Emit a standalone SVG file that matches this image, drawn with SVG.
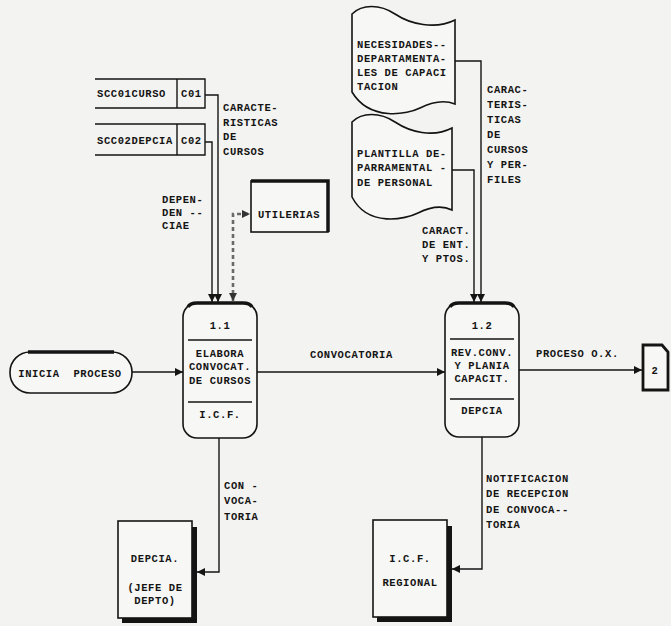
<svg xmlns="http://www.w3.org/2000/svg" width="671" height="626" viewBox="0 0 671 626">
<style>
.t{font-family:"Liberation Mono","DejaVu Sans Mono",monospace;font-weight:bold;font-size:10.5px;letter-spacing:0.6px;fill:#141414}
.c{text-anchor:middle}
.ln{stroke:#141414;stroke-width:1.4;fill:none}
.sh{fill:#f7f7f5;stroke:#141414;stroke-width:1.6}
.thick{stroke:#141414;stroke-width:3.5;fill:none}
.dash{stroke:#6a6a6a;stroke-width:2.6;stroke-dasharray:4 3;fill:none}
</style>
<defs>
<marker id="ah" viewBox="0 0 10 10" refX="10" refY="5" markerWidth="9" markerHeight="8" markerUnits="userSpaceOnUse" orient="auto"><path d="M0,0 L10,5 L0,10 z" fill="#141414"/></marker>
<marker id="ahd" viewBox="0 0 10 10" refX="10" refY="5" markerWidth="9" markerHeight="8" markerUnits="userSpaceOnUse" orient="auto-start-reverse"><path d="M0,0 L10,5 L0,10 z" fill="#333"/></marker>
</defs>
<rect width="671" height="626" fill="#f3f3f1"/>

<g id="connectors">
<path class="ln" d="M205,95 H218 V302" marker-end="url(#ah)"/>
<path class="ln" d="M205,142 H212 V302" marker-end="url(#ah)"/>
<path class="dash" d="M233,301 V214 H250" marker-start="url(#ahd)" marker-end="url(#ahd)"/>
<path class="ln" d="M132,372 H183" marker-end="url(#ah)"/>
<path class="ln" d="M257,372 H445" marker-end="url(#ah)"/>
<path class="ln" d="M519,370 H642" marker-end="url(#ah)"/>
<path class="ln" d="M455,61 H481 V302" marker-end="url(#ah)"/>
<path class="ln" d="M452,170 H474 V302" marker-end="url(#ah)"/>
<path class="ln" d="M219,438 V572 H197" marker-end="url(#ah)"/>
<path class="ln" d="M482,437 V569 H452" marker-end="url(#ah)"/>
<text class="t" x="223" y="111">CARACTE-</text>
<text class="t" x="223" y="126">RISTICAS</text>
<text class="t" x="223" y="140">DE</text>
<text class="t" x="223" y="155">CURSOS</text>
<text class="t" x="162" y="203">DEPEN-</text>
<text class="t" x="162" y="216">DEN --</text>
<text class="t" x="162" y="229">CIAE</text>
<text class="t" x="310" y="358">CONVOCATORIA</text>
<text class="t" x="536" y="357">PROCESO O.X.</text>
<text class="t" x="487" y="93">CARAC-</text>
<text class="t" x="487" y="108">TERIS-</text>
<text class="t" x="487" y="123">TICAS</text>
<text class="t" x="487" y="138">DE</text>
<text class="t" x="487" y="153">CURSOS</text>
<text class="t" x="487" y="168">Y PER-</text>
<text class="t" x="487" y="183">FILES</text>
<text class="t" x="422" y="234">CARACT.</text>
<text class="t" x="422" y="248">DE ENT.</text>
<text class="t" x="422" y="262">Y PTOS.</text>
<text class="t" x="224" y="489">CON -</text>
<text class="t" x="224" y="504">VOCA-</text>
<text class="t" x="224" y="520">TORIA</text>
<text class="t" x="486" y="482">NOTIFICACION</text>
<text class="t" x="486" y="497">DE RECEPCION</text>
<text class="t" x="486" y="513">DE CONVOCA--</text>
<text class="t" x="486" y="528">TORIA</text>
</g>

<g id="store1">
<path class="ln" d="M95,79 H205 V108 H95 M177,79 V108"/>
<text class="t" x="97" y="97">SCC01CURSO</text>
<text class="t" x="181" y="97">C01</text>
</g>
<g id="store2">
<path class="ln" d="M95,124 H205 V155 H95 M177,124 V155"/>
<text class="t" x="97" y="144">SCC02DEPCIA</text>
<text class="t" x="181" y="144">C02</text>
</g>

<g id="utilerias">
<rect class="sh" x="251" y="181" width="77" height="51" stroke-width="2"/>
<path class="thick" d="M251,181 H328 V232"/>
<text class="t c" x="289" y="218">UTILERIAS</text>
</g>

<g id="inicia">
<rect class="sh" x="10" y="352" width="122" height="41" rx="20"/>
<path class="thick" d="M28,352 H114"/>
<text class="t c" x="70" y="377" xml:space="preserve">INICIA  PROCESO</text>
</g>

<g id="p11">
<rect class="sh" x="183" y="303" width="74" height="135" rx="14"/>
<path class="thick" d="M188,307 Q190,303 197,303 H243 Q250,303 252,307"/>
<text class="t c" x="220" y="329">1.1</text>
<path class="ln" d="M188,340 H252" stroke-width="2"/>
<text class="t c" x="220" y="357">ELABORA</text>
<text class="t c" x="220" y="370">CONVOCAT.</text>
<text class="t c" x="220" y="384">DE CURSOS</text>
<path class="ln" d="M188,402 H252" stroke-width="2"/>
<text class="t c" x="220" y="418">I.C.F.</text>
</g>

<g id="p12">
<rect class="sh" x="445" y="303" width="74" height="134" rx="14"/>
<path class="thick" d="M450,307 Q452,303 459,303 H505 Q512,303 514,307"/>
<text class="t c" x="482" y="329">1.2</text>
<path class="ln" d="M450,339 H514" stroke-width="2"/>
<text class="t c" x="482" y="356">REV.CONV.</text>
<text class="t c" x="482" y="369">Y PLANIA</text>
<text class="t c" x="482" y="382">CAPACIT.</text>
<path class="ln" d="M450,399 H514" stroke-width="2"/>
<text class="t c" x="482" y="414">DEPCIA</text>
</g>

<g id="doc1">
<path class="sh" d="M352,14 C362,4 380,4 395,14 S435,30 455,20 V104 C445,100 432,102 420,108 S370,122 352,92 Z" stroke-width="2"/>
<text class="t" x="357" y="48">NECESIDADES--</text>
<text class="t" x="357" y="62">DEPARTAMENTA-</text>
<text class="t" x="357" y="76">LES DE CAPACI</text>
<text class="t" x="357" y="90">TACION</text>
</g>

<g id="doc2">
<path class="sh" d="M352,122 C362,112 380,112 395,122 S433,138 452,128 V210 C442,205 430,207 418,213 S368,228 352,197 Z" stroke-width="2"/>
<text class="t" x="357" y="157">PLANTILLA DE-</text>
<text class="t" x="357" y="171">PARRAMENTAL -</text>
<text class="t" x="357" y="186">DE PERSONAL</text>
</g>

<g id="depcia">
<rect class="sh" x="118" y="521" width="74" height="97"/>
<path stroke="#141414" stroke-width="5" fill="none" d="M194.5,527 V620.5 H122"/>
<text class="t c" x="155" y="562">DEPCIA.</text>
<text class="t c" x="155" y="591">(JEFE DE</text>
<text class="t c" x="155" y="604">DEPTO)</text>
</g>

<g id="icf">
<rect class="sh" x="373" y="520" width="74" height="97"/>
<path stroke="#141414" stroke-width="5" fill="none" d="M449.5,526 V619.5 H377"/>
<text class="t c" x="410" y="562">I.C.F.</text>
<text class="t c" x="410" y="586">REGIONAL</text>
</g>

<g id="off2">
<path d="M643,345 H662 L668,352 V390 H643 Z" fill="#f7f7f5" stroke="#141414" stroke-width="2.8"/>
<text class="t c" x="655" y="374" font-size="13">2</text>
</g>
</svg>
